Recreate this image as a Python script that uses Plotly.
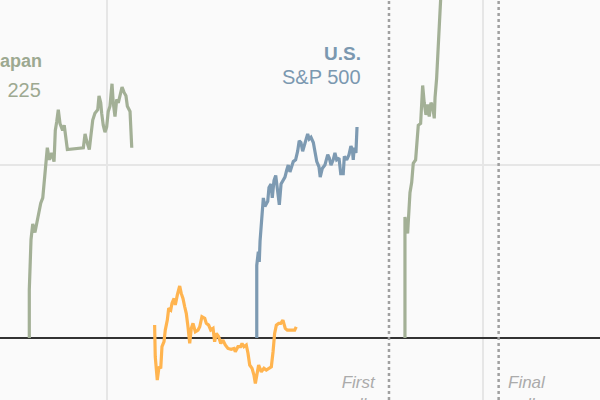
import plotly.graph_objects as go

# hours from midnight ET (gridlines are midnights), values are % change from open
japan1_t = [-4.96, -4.96, -4.85, -4.74, -4.60, -4.49, -4.39, -4.23, -4.10, -4.00,
            -3.89, -3.81, -3.68, -3.53, -3.38, -3.30, -3.21, -3.11, -3.00, -2.83,
            -2.73, -2.62, -2.53, -1.51, -1.40, -1.30, -1.13, -1.04, -0.91, -0.77,
            -0.59, -0.51, -0.40, -0.34, -0.24, -0.13, -0.02, 0.08, 0.19, 0.32,
            0.40, 0.51, 0.62, 0.72, 0.83, 0.96, 1.09, 1.21, 1.30, 1.47, 1.58]
japan1_v = [0, 0.28, 0.57, 0.66, 0.61, 0.66, 0.70, 0.78, 0.81, 0.93,
            1.02, 1.10, 1.03, 1.07, 1.02, 1.20, 1.25, 1.32, 1.24, 1.20,
            1.23, 1.14, 1.09, 1.10, 1.18, 1.14, 1.09, 1.16, 1.26, 1.30,
            1.32, 1.40, 1.36, 1.30, 1.23, 1.19, 1.22, 1.31, 1.34, 1.47,
            1.36, 1.28, 1.38, 1.36, 1.40, 1.45, 1.42, 1.40, 1.34, 1.31, 1.10]

europe_t = [3.04, 3.08, 3.21, 3.32, 3.43, 3.51, 3.64, 3.72, 3.85, 3.94,
            4.07, 4.15, 4.28, 4.36, 4.49, 4.64, 4.74, 4.85, 4.96, 5.06,
            5.17, 5.28, 5.38, 5.49, 5.64, 5.81, 5.92, 6.06, 6.24, 6.34,
            6.49, 6.62, 6.77, 6.87, 6.98, 7.13, 7.26, 7.40, 7.55, 7.72,
            7.93, 8.11, 8.19, 8.36, 8.53, 8.62, 8.74, 8.89, 9.00, 9.11,
            9.26, 9.38, 9.47, 9.59, 9.68, 9.85, 10.02, 10.17, 10.32, 10.49,
            10.60, 10.70, 10.81, 10.96, 11.09, 11.23, 11.38, 11.51, 11.73, 11.98, 12.08]
europe_v = [0.075, -0.108, -0.243, -0.166, -0.175, -0.050, -0.021, 0.046, 0.104, 0.172,
            0.162, 0.201, 0.229, 0.191, 0.249, 0.301, 0.258, 0.229, 0.181, 0.143,
            0.065, -0.031, 0.056, 0.085, 0.036, 0.046, 0.065, 0.123, 0.114, 0.085,
            0.075, 0.046, 0.056, -0.021, 0.027, 0.008, -0.031, -0.012, -0.040, -0.060,
            -0.065, -0.060, -0.079, -0.050, -0.050, -0.031, -0.050, -0.040, -0.088, -0.156,
            -0.175, -0.214, -0.262, -0.204, -0.156, -0.195, -0.175, -0.185, -0.175, -0.166,
            -0.079, 0.027, 0.075, 0.085, 0.085, 0.104, 0.056, 0.046, 0.046, 0.046, 0.065]

us_t = [9.56, 9.56, 9.66, 9.72, 9.77, 9.83, 9.91, 9.98, 10.08, 10.26,
        10.34, 10.47, 10.55, 10.66, 10.77, 10.90, 11.00, 11.11, 11.25, 11.36,
        11.47, 11.57, 11.68, 11.79, 11.89, 12.04, 12.17, 12.27, 12.38, 12.49,
        12.59, 12.70, 12.81, 12.91, 13.02, 13.17, 13.28, 13.39, 13.53, 13.61,
        13.74, 13.91, 14.09, 14.19, 14.30, 14.44, 14.55, 14.66, 14.81, 14.92,
        15.08, 15.15, 15.30, 15.45, 15.57, 15.66, 15.72, 15.78, 15.89, 15.96]
us_v = [0, 0.42, 0.50, 0.44, 0.56, 0.65, 0.75, 0.81, 0.76, 0.79,
        0.87, 0.89, 0.81, 0.91, 0.94, 0.85, 0.77, 0.89, 0.91, 0.93,
        0.97, 1.00, 0.96, 1.00, 1.02, 1.03, 1.08, 1.14, 1.13, 1.08,
        1.11, 1.14, 1.18, 1.15, 1.16, 1.13, 1.07, 1.02, 0.99, 0.93,
        0.98, 1.00, 1.06, 1.04, 1.00, 1.03, 1.07, 1.03, 1.04, 0.95,
        0.95, 1.05, 1.03, 1.06, 1.11, 1.09, 1.03, 1.10, 1.07, 1.22]

japan2_t = [19.02, 19.02, 19.19, 19.28, 19.34, 19.45, 19.55, 19.70, 19.77, 19.87,
            20.02, 20.09, 20.15, 20.25, 20.36, 20.47, 20.57, 20.68, 20.79, 20.89,
            20.94, 21.04, 21.11, 21.15, 21.21, 21.30, 21.35]
japan2_v = [0, 0.70, 0.605, 0.72, 0.84, 0.90, 1.01, 1.03, 1.14, 1.23,
            1.24, 1.35, 1.46, 1.36, 1.29, 1.35, 1.28, 1.36, 1.34, 1.27,
            1.39, 1.50, 1.62, 1.76, 1.84, 1.95, 2.05]

poll_times = [18, 25]
poll_labels = ["First<br>polls<br>close", "Final<br>polls<br>close"]

green = "#a3b096"
blue = "#7d9ab2"
orange = "#ffb44f"

fig = go.Figure()
for t, v, c in [(japan1_t, japan1_v, green), (europe_t, europe_v, orange),
                (us_t, us_v, blue), (japan2_t, japan2_v, green)]:
    fig.add_trace(go.Scatter(x=t, y=v, mode="lines",
                             line=dict(color=c, width=3.2), showlegend=False))

for p in poll_times:
    fig.add_shape(type="line", x0=p, x1=p, y0=0, y1=1, yref="paper",
                  line=dict(color="#a0a0a0", width=2.5, dash="dot"))

font = "Liberation Sans, Arial, sans-serif"
fig.add_annotation(x=17.33, y=-0.19, text=poll_labels[0], xanchor="right", yanchor="top",
                   align="right", showarrow=False,
                   font=dict(family=font, size=17, color="#ababab", style="italic"))
fig.add_annotation(x=25.42, y=-0.19, text=poll_labels[1], xanchor="left", yanchor="top",
                   align="left", showarrow=False,
                   font=dict(family=font, size=17, color="#ababab", style="italic"))

fig.add_annotation(x=-4.0, y=1.6, text="<b>Japan</b>", xanchor="right", showarrow=False,
                   font=dict(family=font, size=18, color="#9da991"))
fig.add_annotation(x=-4.1, y=1.435, text="Nikkei\u2002225", xanchor="right", showarrow=False,
                   font=dict(family=font, size=20, color="#9da991"))
fig.add_annotation(x=16.33, y=1.645, text="<b>U.S.</b>", xanchor="right", showarrow=False,
                   font=dict(family=font, size=19, color="#7b98b0"))
fig.add_annotation(x=16.33, y=1.51, text="S&P 500", xanchor="right", showarrow=False,
                   font=dict(family=font, size=20, color="#7b98b0"))

fig.update_layout(
    width=600, height=400,
    margin=dict(l=0, r=0, t=0, b=0),
    paper_bgcolor="#fafafa", plot_bgcolor="#fafafa",
    xaxis=dict(range=[-6.83, 31.47], tick0=0, dtick=24, showticklabels=False,
               gridcolor="#e6e6e6", gridwidth=1.5, zeroline=False),
    yaxis=dict(range=[-0.358, 1.954], tick0=0, dtick=1, showticklabels=False,
               gridcolor="#e6e6e6", gridwidth=1.5,
               zeroline=True, zerolinecolor="#333333", zerolinewidth=1.5),
)

# drop the browser's default body margin so the figure fills the window
fig.write_html("out.html", config={"displayModeBar": False},
               post_script="document.body.style.margin='0';document.body.style.background='#fafafa';")
